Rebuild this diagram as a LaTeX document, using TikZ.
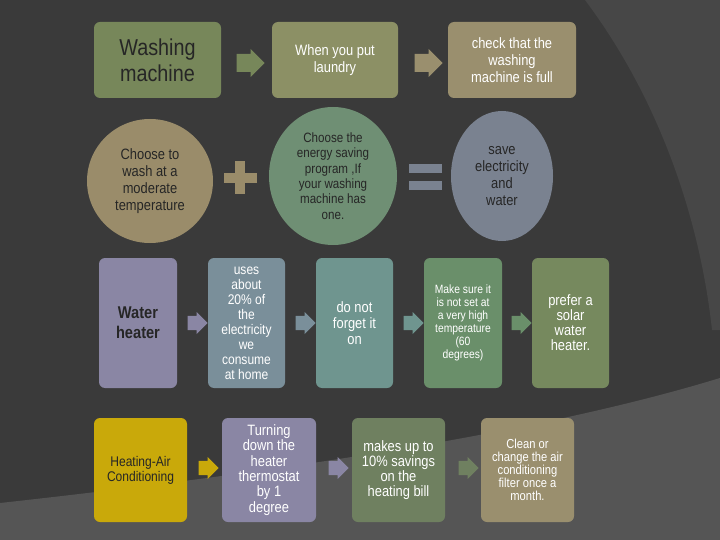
\documentclass[tikz,border=0pt]{standalone}
\usepackage{fontspec}
\setmainfont[FakeStretch=0.86]{Liberation Sans}
\usetikzlibrary{shapes.arrows,shapes.geometric}
\definecolor{bgdark}{HTML}{3A3A3A}
\definecolor{bgmid}{HTML}{474747}
\definecolor{bglight}{HTML}{555555}
\definecolor{cwash}{HTML}{77875A}
\definecolor{colive}{HTML}{8C9065}
\definecolor{ctan}{HTML}{9A8F6E}
\definecolor{ctan2}{HTML}{9A8C6A}
\definecolor{cgreen}{HTML}{6F8F74}
\definecolor{cgray}{HTML}{7A8290}
\definecolor{clav}{HTML}{8A86A4}
\definecolor{cblue}{HTML}{7A8F9A}
\definecolor{cteal}{HTML}{6F958F}
\definecolor{cgrn2}{HTML}{6A8F6A}
\definecolor{colv2}{HTML}{76895E}
\definecolor{cyel}{HTML}{C9A90A}
\definecolor{cdkg}{HTML}{6F8060}
\tikzset{
  box/.style={rounded corners=6pt, inner sep=2pt, align=center, text=white},
  oval/.style={ellipse, inner sep=0pt, align=center, text=black!85},
  arr/.style={single arrow, minimum height=28pt, minimum width=28pt, single arrow head extend=4pt, inner xsep=0pt, inner ysep=7pt, anchor=center},
  sarr/.style={arr, minimum height=20pt, minimum width=22pt, inner ysep=5.5pt, single arrow head extend=3pt},
}
\begin{document}
\begin{tikzpicture}[x=1pt,y=-1pt]
\fill[bgdark] (0,0) rectangle (720,540);
\fill[bgmid] (585,0) .. controls (660,100) and (700,220) .. (712,330) -- (720,330) -- (720,0) -- cycle;
\fill[bglight] (0,503) .. controls (300,470) and (550,430) .. (720,378) -- (720,540) -- (0,540) -- cycle;
\useasboundingbox (0,0) rectangle (720,540);
% row 1
\node[box, fill=cwash, minimum width=127pt, minimum height=76pt, text=black!85, font=\fontsize{23}{26}\selectfont] (wm) at (157.5,60) {Washing\\machine};
\node[box, fill=colive, minimum width=126pt, minimum height=76pt, font=\fontsize{15}{17}\selectfont] (put) at (335,60) {When you put\\laundry};
\node[box, fill=ctan, minimum width=128pt, minimum height=76pt, font=\fontsize{15}{17}\selectfont] (full) at (512,60) {check that the\\washing\\machine is full};
\node[arr, fill=cwash] (a1) at (246,63) {};
\node[arr, fill=ctan] (a2) at (424,63) {};
% row 2
\node[oval, fill=ctan2, minimum width=126pt, minimum height=124pt, font=\fontsize{15}{17}\selectfont] (temp) at (150,181) {Choose to\\wash at a\\moderate\\temperature};
\node[oval, fill=cgreen, minimum width=128pt, minimum height=138pt, font=\fontsize{13.5}{15.3}\selectfont] (prog) at (333,176) {Choose the\\energy saving\\program ,If\\your washing\\machine has\\one.};
\node[oval, fill=cgray, minimum width=102pt, minimum height=130pt, font=\fontsize{15}{17}\selectfont] (save) at (502,176) {save\\electricity\\and\\water};
\node[fill=ctan2, minimum width=33pt, minimum height=10pt, inner sep=0pt] (plus) at (240,178) {};
\node[fill=ctan2, minimum width=10pt, minimum height=33pt, inner sep=0pt] (plusv) at (240,178) {};
\node[fill=cgray, minimum width=33pt, minimum height=9pt, inner sep=0pt] (eq1) at (425,169) {};
\node[fill=cgray, minimum width=33pt, minimum height=9pt, inner sep=0pt] (eq2) at (425,186) {};
% row 3
\node[box, fill=clav, minimum width=78pt, minimum height=130pt, text=black!85, font=\bfseries\fontsize{17}{20}\selectfont] (wh) at (138,323) {Water\\heater};
\node[box, fill=cblue, minimum width=77pt, minimum height=130pt, font=\fontsize{14}{15}\selectfont] (uses) at (246.5,323) {uses\\about\\20\% of\\the\\electricity\\we\\consume\\at home};
\node[box, fill=cteal, minimum width=77pt, minimum height=130pt, font=\fontsize{15}{16}\selectfont] (forget) at (354.5,323) {do not\\forget it\\on};
\node[box, fill=cgrn2, minimum width=78pt, minimum height=130pt, font=\fontsize{12}{13}\selectfont] (sure) at (463,323) {Make sure it\\is not set at\\a very high\\temperature\\(60\\degrees)};
\node[box, fill=colv2, minimum width=77pt, minimum height=130pt, font=\fontsize{15}{15}\selectfont] (solar) at (570.5,323) {prefer a\\solar\\water\\heater.};
\node[sarr, fill=clav] (b1) at (194,323) {};
\node[sarr, fill=cblue] (b2) at (302,323) {};
\node[sarr, fill=cteal] (b3) at (410,323) {};
\node[sarr, fill=cgrn2] (b4) at (518,323) {};
% row 4
\node[box, fill=cyel, minimum width=93pt, minimum height=104pt, text=black!85, font=\fontsize{14}{15}\selectfont] (hac) at (140.5,470) {Heating-Air\\Conditioning};
\node[box, fill=clav, minimum width=94pt, minimum height=104pt, font=\fontsize{15}{15.3}\selectfont] (turn) at (269,470) {Turning\\down the\\heater\\thermostat\\by 1\\degree};
\node[box, fill=cdkg, minimum width=93pt, minimum height=104pt, font=\fontsize{15}{15}\selectfont] (ten) at (398.5,470) {makes up to\\10\% savings\\on the\\heating bill};
\node[box, fill=ctan, minimum width=93pt, minimum height=104pt, font=\fontsize{13}{13}\selectfont] (clean) at (527.5,470) {Clean or\\change the air\\conditioning\\filter once a\\month.};
\node[sarr, fill=cyel] (c1) at (205,468) {};
\node[sarr, fill=clav] (c2) at (335,468) {};
\node[sarr, fill=cdkg] (c3) at (465,468) {};
\end{tikzpicture}
\end{document}
